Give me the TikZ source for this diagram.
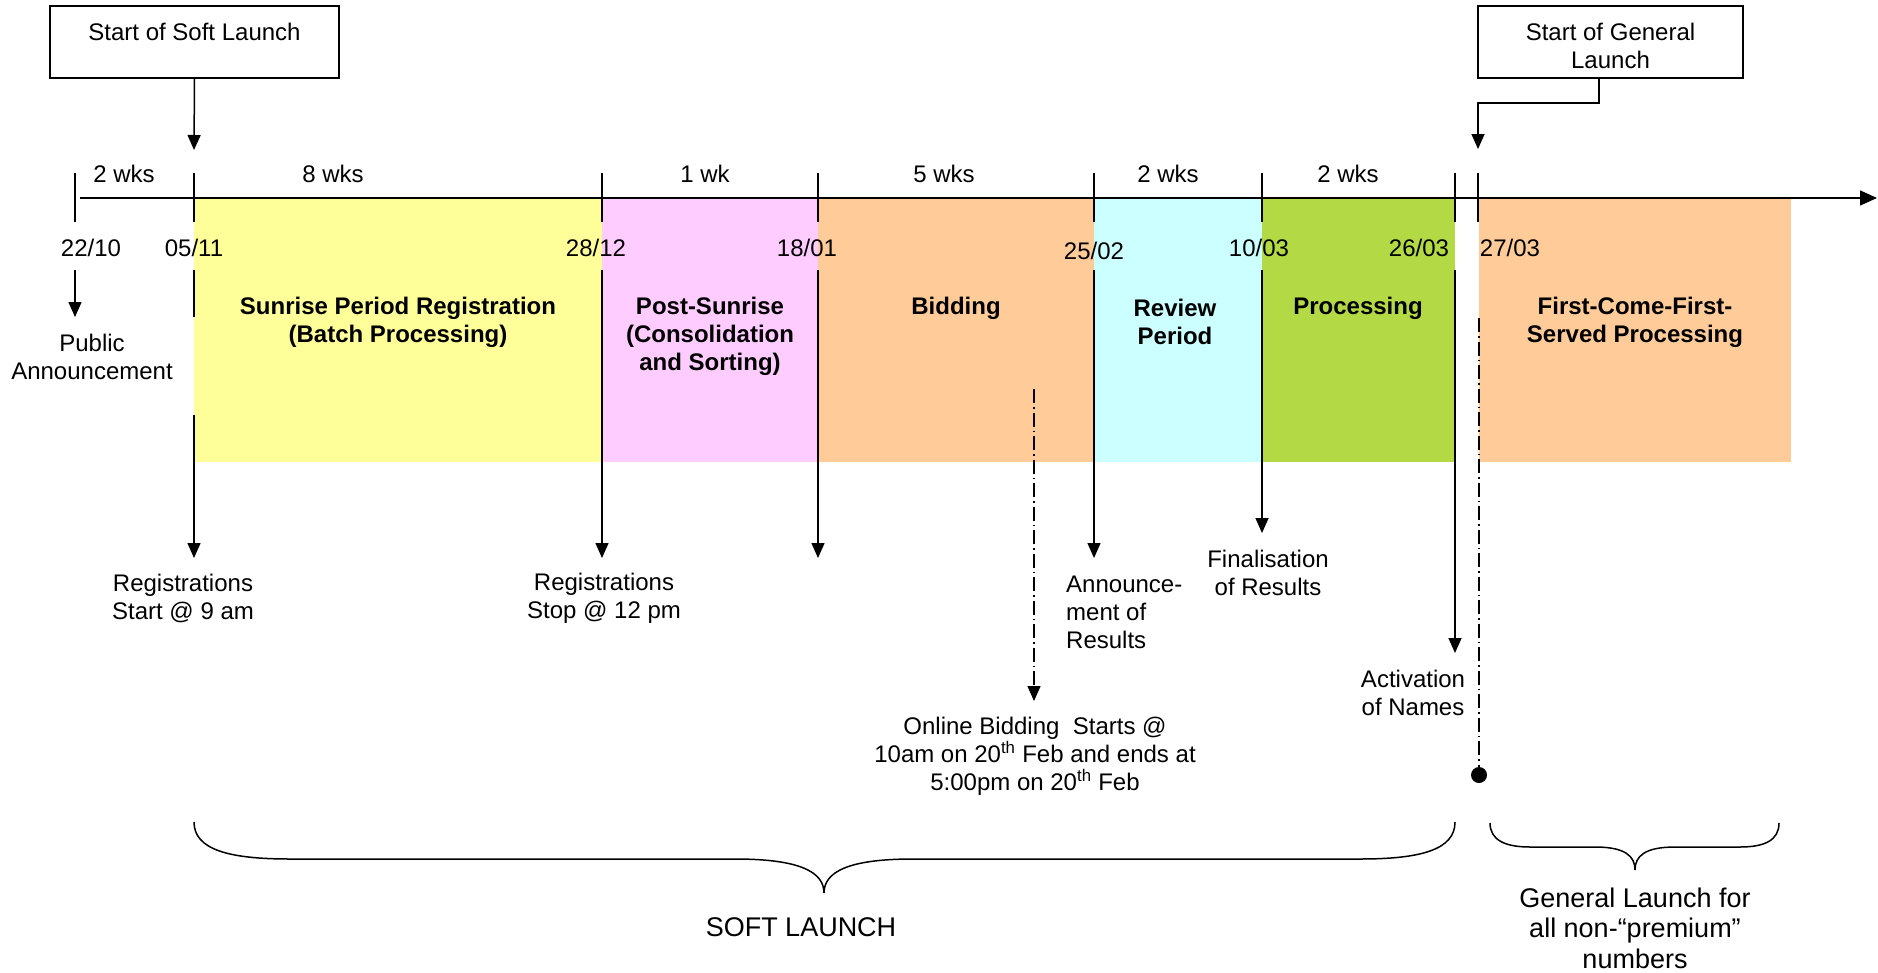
\documentclass[tikz,border=0pt]{standalone}
\usepackage{fontspec}
\setmainfont{Liberation Sans}
\usetikzlibrary{arrows.meta}
\definecolor{cyellow}{RGB}{255,255,153}
\definecolor{cpink}{RGB}{255,204,255}
\definecolor{corange}{RGB}{255,204,153}
\definecolor{ccyan}{RGB}{204,255,255}
\definecolor{cgreen}{RGB}{179,217,68}
\begin{document}
\begin{tikzpicture}[x=1pt,y=-1pt,
  txt/.style={font=\fontsize{24}{28}\selectfont, inner sep=0pt, align=center},
  bigtxt/.style={font=\fontsize{27}{30.5}\selectfont, inner sep=0pt, align=center},
  btxt/.style={font=\fontsize{24}{28}\selectfont\bfseries, inner sep=0pt, align=center},
  launchbox/.style={draw, line width=1.5pt, font=\fontsize{24}{28}\selectfont, align=center, inner sep=0pt, minimum height=72pt},
  phasebox/.style={draw=none, inner sep=0pt, anchor=north west, minimum height=264pt},
  arr/.style={line width=1.5pt, -{Triangle[length=15pt,width=13pt]}},
  tickline/.style={line width=1.5pt},
  dashdot/.style={line width=1.5pt, dash pattern=on 14pt off 4pt on 1.5pt off 4pt},
  bracestyle/.style={line width=1.5pt}
]
\useasboundingbox (0,0) rectangle (1878,972);

% phase rectangles
\node[phasebox, fill=cyellow, minimum width=408pt] (ph1) at (194,198) {};
\node[phasebox, fill=cpink, minimum width=216pt] (ph2) at (602,198) {};
\node[phasebox, fill=corange, minimum width=276pt] (ph3) at (818,198) {};
\node[phasebox, fill=ccyan, minimum width=168pt] (ph4) at (1094,198) {};
\node[phasebox, fill=cgreen, minimum width=193pt] (ph5) at (1262,198) {};
\node[phasebox, fill=corange, minimum width=312pt] (ph6) at (1479,198) {};

% launch boxes
\node[launchbox, minimum width=289pt] (softbox) at (194.5,42) {\rule{0pt}{25pt}Start of Soft Launch\\\phantom{Launch}};
\node[launchbox, minimum width=265pt] (genbox) at (1610.5,42) {\rule{0pt}{25pt}Start of General\\Launch};
\coordinate (softtip) at (194,150);
\coordinate (gentip) at (1478,149);
\draw[arr] (softbox.south) -- (softtip);
\draw[arr] ([xshift=-11.5pt]genbox.south) -- ++(0,24) -| (gentip);

% timeline
\coordinate (tlstart) at (80,198);
\coordinate (tlend) at (1877,198);
\draw[line width=1.5pt, -{Triangle[length=17pt,width=15pt]}] (tlstart) -- (tlend);
\foreach \x in {75,194,602,818,1094,1262,1455,1478} {
  \draw[tickline] (\x,173) -- (\x,222);
}

% durations
\node[txt] (d1) at (124,174) {2 wks};
\node[txt] (d2) at (333,174) {8 wks};
\node[txt] (d3) at (705,174) {1 wk};
\node[txt] (d4) at (944,174) {5 wks};
\node[txt] (d5) at (1168,174) {2 wks};
\node[txt] (d6) at (1348,174) {2 wks};

% dates
\node[txt] (t1) at (91,248) {22/10};
\node[txt] (t2) at (194,248) {05/11};
\node[txt] (t3) at (596,248) {28/12};
\node[txt] (t4) at (807,248) {18/01};
\node[txt] (t5) at (1094,251) {25/02};
\node[txt] (t6) at (1259,248) {10/03};
\node[txt] (t7) at (1419,248) {26/03};
\node[txt] (t8) at (1510,248) {27/03};

% phase labels
\node[btxt] (l1) at (398,322) {Sunrise Period Registration\\(Batch Processing)};
\node[btxt] (l2) at (710,336) {Post-Sunrise\\(Consolidation\\and Sorting)};
\node[btxt] (l3) at (956,308) {Bidding};
\node[btxt] (l4) at (1175,322) {Review\\Period};
\node[btxt] (l5) at (1358,308) {Processing};
\node[btxt] (l6) at (1635,322) {First-Come-First-\\Served Processing};

% event arrows
\coordinate (a0s) at (75,270);   \coordinate (a0e) at (75,317);
\draw[arr] (a0s) -- (a0e);
\coordinate (s1a) at (194,270);  \coordinate (s1b) at (194,317);
\draw[tickline] (s1a) -- (s1b);
\coordinate (a1s) at (194,415);  \coordinate (a1e) at (194,558);
\draw[arr] (a1s) -- (a1e);
\coordinate (a2s) at (602,270);  \coordinate (a2e) at (602,558);
\draw[arr] (a2s) -- (a2e);
\coordinate (a3s) at (818,270);  \coordinate (a3e) at (818,558);
\draw[arr] (a3s) -- (a3e);
\coordinate (a4s) at (1094,270); \coordinate (a4e) at (1094,558);
\draw[arr] (a4s) -- (a4e);
\coordinate (a5s) at (1262,270); \coordinate (a5e) at (1262,533);
\draw[arr] (a5s) -- (a5e);
\coordinate (a6s) at (1455,270); \coordinate (a6e) at (1455,653);
\draw[arr] (a6s) -- (a6e);
\coordinate (bs) at (1034,389);  \coordinate (be) at (1034,701);
\draw[dashdot, -{Triangle[length=15pt,width=13pt]}] (bs) -- (be);
\coordinate (gs) at (1479,318);
\node[circle, fill=black, inner sep=0pt, minimum size=16pt] (gdot) at (1479,775) {};
\draw[dashdot] (gs) -- (gdot.center);

% event labels
\node[txt] (e0) at (92,357) {Public\\Announcement};
\node[txt] (e1) at (183,598) {Registrations\\Start @ 9 am};
\node[txt] (e2) at (604,598) {Registrations\\Stop @ 12 pm};
\node[txt, align=left, anchor=west] (e4) at (1066,612) {Announce-\\ment of\\Results};
\node[txt] (e5) at (1268,573) {Finalisation\\of Results};
\node[txt] (e6) at (1413,693) {Activation\\of Names};
\node[txt] (eb) at (1035,756) {Online Bidding\ \ Starts @\\10am on 20\textsuperscript{th} Feb and ends at\\5:00pm on 20\textsuperscript{th} Feb};

% braces
\draw[bracestyle] (194,822) .. controls (194,850) and (230,859) .. (290,859) -- (735,859)
  .. controls (800,859) and (824,872) .. (824,893)
  .. controls (824,872) and (848,859) .. (913,859) -- (1360,859)
  .. controls (1420,859) and (1455,850) .. (1455,822);
\draw[bracestyle] (1490,823) .. controls (1490,840) and (1505,847) .. (1530,847) -- (1595,847)
  .. controls (1625,847) and (1635,856) .. (1635,870)
  .. controls (1635,856) and (1645,847) .. (1675,847) -- (1740,847)
  .. controls (1765,847) and (1779,840) .. (1779,823);
\node[bigtxt] (softl) at (801,927) {SOFT LAUNCH};
\node[bigtxt] (genl) at (1635,928) {General Launch for\\all non-“premium”\\numbers};
\end{tikzpicture}
\end{document}
